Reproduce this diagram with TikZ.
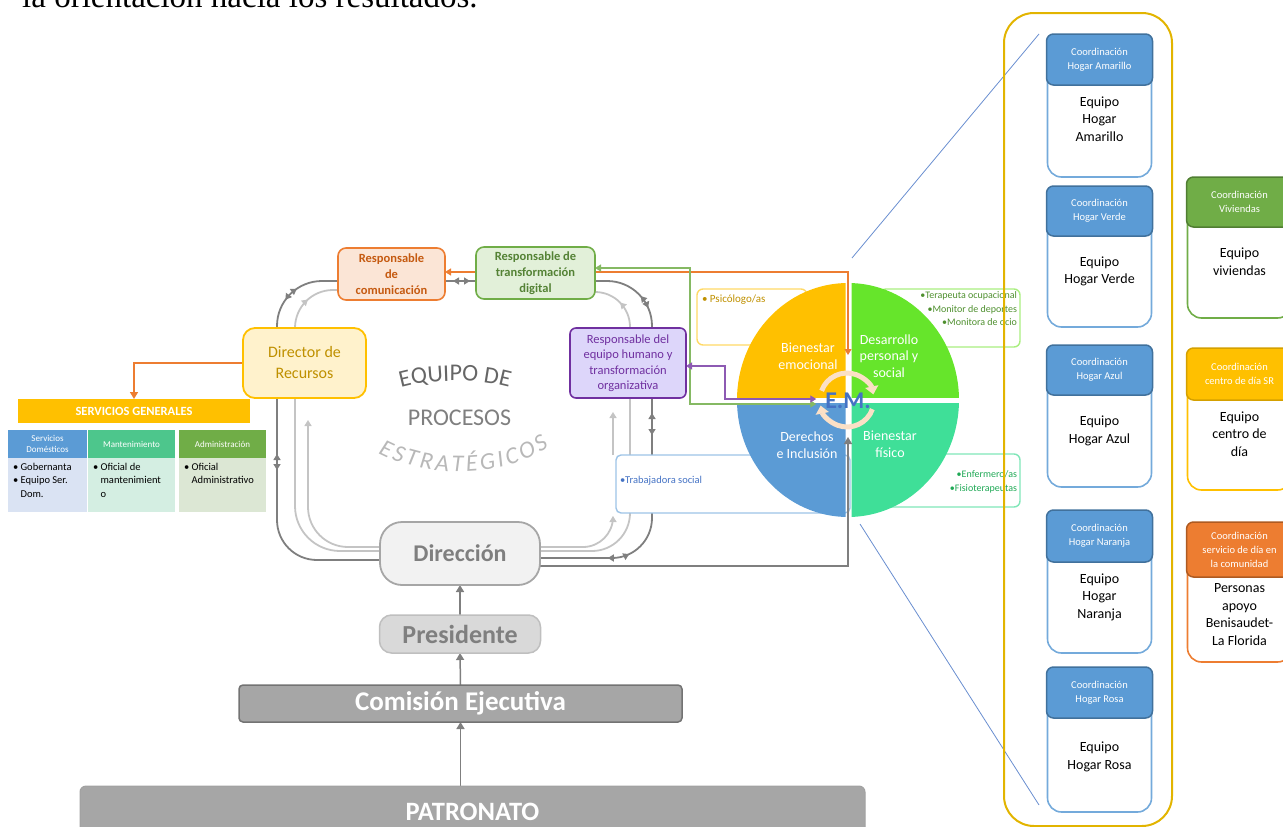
\documentclass[tikz,border=0pt]{standalone}
\usepackage{fontspec}
\setmainfont{Carlito}
\newfontfamily\seriffont{Liberation Serif}
\usetikzlibrary{arrows.meta,decorations.markings,decorations.text}
\definecolor{cgold}{HTML}{FFC000}
\definecolor{cdgold}{HTML}{BF9000}
\definecolor{clyel}{HTML}{FFF2CC}
\definecolor{corange}{HTML}{ED7D31}
\definecolor{cdorange}{HTML}{C55A11}
\definecolor{clorange}{HTML}{FBE5D6}
\definecolor{cgreen}{HTML}{70AD47}
\definecolor{cdgreen}{HTML}{548235}
\definecolor{clgreen}{HTML}{E2F0D9}
\definecolor{cpurple}{HTML}{7030A0}
\definecolor{clpurple}{HTML}{DDD6FA}
\definecolor{cblue}{HTML}{5B9BD5}
\definecolor{cdblue}{HTML}{41719C}
\definecolor{ctblue}{HTML}{4472C4}
\definecolor{clblue}{HTML}{9DC3E6}
\definecolor{cdark}{HTML}{7F7F7F}
\definecolor{clight}{HTML}{C4C4C4}
\definecolor{cqgreen}{HTML}{66E52B}
\definecolor{cqteal}{HTML}{3FDF98}
\definecolor{cmint}{HTML}{4DC68C}
\definecolor{ccont}{HTML}{E2B400}
\definecolor{cpeach}{HTML}{FBE0C6}
\definecolor{cterap}{HTML}{4E8F2E}
\definecolor{cenf}{HTML}{1FA855}
\pgfdeclarelayer{bg}
\pgfdeclarelayer{fg}
\pgfsetlayers{bg,main,fg}
\newcommand\fsz[2]{\fontsize{#1}{#2}\selectfont}
\begin{document}
\begin{tikzpicture}[x=1pt,y=-1pt,
  tip/.style={-{Triangle[width=7pt,length=6pt]}},
  btip/.style={{Triangle[width=7pt,length=6pt]}-{Triangle[width=7pt,length=6pt]}},
  dk/.style={draw=cdark,line width=1.8pt},
  lt/.style={draw=clight,line width=1.8pt},
  tw/.style 2 args={postaction={decorate,decoration={markings,
     mark=at position #1 with {\arrowreversed{Triangle[width=7pt,length=6pt]}},
     mark=at position #2 with {\arrow{Triangle[width=7pt,length=6pt]}}}}},
  mk/.style={postaction={decorate,decoration={markings,
     mark=at position #1 with {\arrow{Triangle[width=7pt,length=6pt]}}}}},
  rb/.style={draw,rounded corners=8pt,line width=1.6pt,inner sep=0pt,outer sep=0pt,align=center},
  plain/.style={inner sep=0pt,outer sep=0pt,align=center},
  hdr/.style={plain,minimum height=28pt,text=white,font=\fsz{9}{11}},
  bod/.style={plain,minimum height=54pt},
  btxt/.style={plain,anchor=north west,align=left,font=\fsz{10.5}{13.5}},
  qtext/.style={plain,text=white,font=\fsz{14}{16.5}},
  sideb/.style={draw,rounded corners=6pt,line width=1.4pt,inner sep=0pt,outer sep=0pt},
  hhead/.style={plain,draw,line width=1.5pt,rounded corners=7pt,text=white,font=\fsz{10.5}{14},minimum width=106pt},
  hbody/.style={plain,draw,line width=1.6pt,rounded corners=14pt,fill=white,minimum width=104pt},
  hbt/.style={plain,font=\fsz{14}{17.5}},
  garrow/.style={draw=cdark,line width=1.5pt,-{Triangle[width=8pt,length=7pt]}},
  cyc/.style={draw=cpeach,line width=5pt,-{Triangle[width=13pt,length=8pt]}}
]
\useasboundingbox (0,0) rectangle (1283,827);

% ---------- top text
\node[anchor=base west,inner sep=0pt,font=\seriffont\fsz{33}{33}] (toptext) at (22,8) {la orientación hacia los resultados.};

% ---------- central boxes (front)
\begin{pgfonlayer}{fg}
\node[rb,draw=cgold,fill=clyel,text=cdgold,minimum width=123pt,minimum height=70pt,rounded corners=12pt,line width=1.8pt,font=\fsz{16}{21}] (director) at (304.5,363) {Director de\\Recursos};
\node[rb,draw=corange,fill=clorange,text=cdorange,minimum width=107pt,minimum height=52pt,font=\bfseries\fsz{12.5}{16}] (com) at (391.5,274) {Responsable\\de\\comunicación};
\node[rb,draw=cgreen,fill=clgreen,text=cdgreen,minimum width=119pt,minimum height=52pt,font=\bfseries\fsz{12.5}{16}] (dig) at (535.5,273) {Responsable de\\transformación\\digital};
\node[rb,draw=cpurple,fill=clpurple,text=cpurple,minimum width=116pt,minimum height=70pt,rounded corners=6pt,font=\fsz{12.5}{15.5}] (eqh) at (628,363) {Responsable del\\equipo humano y\\transformación\\organizativa};
\node[rb,draw=black!35,fill=black!5,text=cdark,minimum width=160pt,minimum height=63pt,rounded corners=22pt,line width=1.8pt,font=\bfseries\fsz{24}{24}] (dirn) at (460,553.5) {Dirección};
\node[rb,draw=black!25,fill=black!15,text=cdark,minimum width=161pt,minimum height=38pt,rounded corners=12pt,line width=1.5pt,font=\bfseries\fsz{26}{26}] (pres) at (460,634) {Presidente};
\node[rb,draw=black!55,fill=black!35,text=white,minimum width=443pt,minimum height=37pt,rounded corners=4pt,line width=1.5pt,font=\bfseries\fsz{27}{27}] (comi) at (460.5,703.5) {Comisión Ejecutiva};
\node[rb,draw=black!37,fill=black!35,text=white,minimum width=785pt,minimum height=52pt,rounded corners=6pt,line width=1pt,font=\bfseries\fsz{26.5}{26.5}] (patr) at (472.5,812) {PATRONATO};
\end{pgfonlayer}

% ---------- left table
\node[plain,fill=cgold,minimum width=232pt,minimum height=24pt,text=white,font=\bfseries\fsz{12.5}{12.5}] (sg) at (134,411) {SERVICIOS GENERALES};
\node[hdr,fill=cblue,minimum width=79pt] (h1) at (47.5,444) {Servicios\\Domésticos};
\node[hdr,fill=cmint,minimum width=87pt] (h2) at (131.5,444) {Mantenimiento};
\node[hdr,fill=cgreen,minimum width=87pt] (h3) at (222.5,444) {Administración};
\node[bod,fill={rgb,255:red,218;green,227;blue,243},minimum width=79pt] (b1) at (47.5,485) {};
\node[bod,fill={rgb,255:red,212;green,238;blue,226},minimum width=87pt] (b2) at (131.5,485) {};
\node[bod,fill={rgb,255:red,220;green,231;blue,212},minimum width=87pt] (b3) at (222.5,485) {};
\node[btxt] (t1) at (13,463) {• Gobernanta\\• Equipo Ser.\\\hphantom{• }Dom.};
\node[btxt] (t2) at (93,463) {• Oficial de\\\hphantom{• }mantenimient\\\hphantom{• }o};
\node[btxt] (t3) at (184,463) {• Oficial\\\hphantom{• }Administrativo};
\draw[corange,line width=1.5pt,-{Triangle[width=8pt,length=7pt]}] (director.west) -| (sg.north);

% ---------- equipo de procesos estrategicos
\node[plain,text=cdark,font=\fsz{24}{24}] (proc) at (459.5,418) {PROCESOS};
\path[decorate,decoration={text along path,text={|\fsz{24}{24}|EQUIPO DE},text align=center,text color=black!60}]
  (386,393) .. controls (420,377) and (488,377) .. (524,393);
\path[decorate,decoration={text along path,text={|\itshape\fsz{24}{24}|ESTRATÉGICOS},text align={fit to path},text color=black!28}]
  (378,453) .. controls (425,478) and (500,480) .. (549,447);

% ---------- side boxes behind circle
\node[sideb,draw={rgb,255:red,255;green,217;blue,102},minimum width=110pt,minimum height=56pt] (psi) at (752,317) {};
\node[plain,anchor=west,font=\fsz{11}{11},text=cdgold] (psit) at (702,300) {• Psicólogo/as};
\node[sideb,draw={rgb,255:red,169;green,238;blue,127},minimum width=140pt,minimum height=58pt] (ter) at (950,318) {};
\node[plain,anchor=north east,align=right,font=\fsz{10}{13.5},text=cterap] (tert) at (1017,292) {•Terapeuta ocupacional\\•Monitor de deportes\\•Monitora de ocio};
\node[sideb,draw={rgb,255:red,128;green,230;blue,184},minimum width=140pt,minimum height=53pt] (enf) at (950,480.5) {};
\node[plain,anchor=north east,align=right,font=\fsz{10}{13.5},text=cenf] (enft) at (1017,471) {•Enfermero/as\\•Fisioterapeutas};
\node[sideb,draw=clblue,rounded corners=5pt,minimum width=234pt,minimum height=58pt] (trab) at (733,484) {};
\node[plain,anchor=west,font=\fsz{10.5}{10.5},text=ctblue] (trabt) at (620,481) {•Trabajadora social};

% ---------- circle
\begin{scope}\clip (700,250) rectangle (845.5,397);\fill[cgold] (848,400) ellipse[x radius=111,y radius=117];\end{scope}
\begin{scope}\clip (851.5,250) rectangle (1000,397);\fill[cqgreen] (848,400) ellipse[x radius=111,y radius=117];\end{scope}
\begin{scope}\clip (700,403) rectangle (845.5,560);\fill[cblue] (848,400) ellipse[x radius=111,y radius=117];\end{scope}
\begin{scope}\clip (851.5,403) rectangle (1000,560);\fill[cqteal] (848,400) ellipse[x radius=111,y radius=117];\end{scope}
\node[qtext] (qe) at (808,356) {Bienestar\\emocional};
\node[qtext] (qd) at (889,356) {Desarrollo\\personal y\\social};
\node[qtext] (qi) at (807,445) {Derechos\\e Inclusión};
\node[qtext] (qf) at (890,444) {Bienestar\\físico};
\draw[cyc] (821.6,390.8) arc[start angle=-160,end angle=-12,radius=27];
\draw[cyc] (872.4,409.2) arc[start angle=20,end angle=168,radius=27];
\node[plain,inner sep=2pt,font=\bfseries\fsz{24}{24},text=ctblue] (em) at (848,401) {E.M.};
\coordinate (emtop) at (848,355);
\coordinate (embot) at (848,437);

% ---------- colored connectors
\draw[corange,line width=1.2pt,btip] ([yshift=2pt]com.east) -| (emtop);
\draw[cgreen!85,line width=1.2pt,btip] ([yshift=5pt]dig.east) -- ++(95,0) |- ([xshift=-7pt,yshift=-3pt]em.west);
\draw[cpurple!80,line width=1.2pt,btip] ([yshift=-3pt]eqh.east) -- ++(39,0) |- ([xshift=-7pt,yshift=2pt]em.west);
\draw[garrow] ([yshift=-12.5pt]dirn.east) -| (embot);

% ---------- loops (back)
\begin{pgfonlayer}{bg}
\coordinate (z1) at (852,258);
\coordinate (z2) at (1039,34);
\coordinate (z3) at (860,524);
\coordinate (z4) at (1039,805);
\draw[ctblue!80,line width=0.8pt] (z1) -- (z2);
\draw[ctblue!80,line width=0.8pt] (z3) -- (z4);
% dark
\draw[dk,rounded corners=45pt,tw={30pt}{46pt}] ([xshift=-27.5pt]director.north) -- ++(0,-47) -- ([yshift=-7pt]com.west);
\draw[dk,rounded corners=40pt,tw={56pt}{72pt}] ([xshift=-27.5pt]director.south) |- ([yshift=-6.5pt]dirn.west);
\draw[dk,rounded corners=40pt,tw={50pt}{72pt}] ([xshift=-81pt]trab.south) |- ([yshift=-4.5pt]dirn.east);
\draw[dk,tw={15pt}{37pt}] ([xshift=24pt]eqh.south) -- ([xshift=-81pt]trab.north);
\draw[dk,rounded corners=45pt,tw={50pt}{64pt}] ([yshift=-8pt]dig.east) -| ([xshift=24pt]eqh.north);
\draw[dk,tw={8pt}{25pt}] ([yshift=-7pt]com.east) -- ([yshift=-8pt]dig.west);
% light
\coordinate (l3e) at (308,420);
\coordinate (l6s) at (613,455);
\coordinate (l6e) at (613,412);
\coordinate (l7e) at (613,516);
\draw[lt,rounded corners=38pt,mk=0.5] ([xshift=-9.5pt]director.north) -- ++(0,-38) -- ([yshift=-16pt]com.west);
\draw[lt,rounded corners=45pt] ([xshift=-9.5pt]director.south) |- ([yshift=2.5pt]dirn.west);
\draw[lt,rounded corners=40pt,tip] ([yshift=6.5pt]dirn.west) -| (l3e);
\draw[lt,rounded corners=35pt,mk=0.5] ([xshift=2pt]eqh.north) |- ([yshift=-19pt]dig.east);
\draw[lt] ([xshift=2pt]eqh.south) -- ([xshift=-103pt]trab.north);
\draw[lt,rounded corners=38pt] ([xshift=-103pt]trab.south) |- ([yshift=2.5pt]dirn.east);
\draw[lt,tip] (l6s) -- (l6e);
\draw[lt,rounded corners=30pt,tip] ([yshift=6.5pt]dirn.east) -| (l7e);
\draw[garrow] (comi.north) -- (pres.south);
\draw[garrow] (pres.north) -- (dirn.south);
\draw[garrow] (comi.south |- patr.north) -- (comi.south);
\end{pgfonlayer}

% ---------- right panel (front)
\begin{pgfonlayer}{fg}
\node[plain,draw=ccont,line width=2pt,rounded corners=30pt,minimum width=168pt,minimum height=813pt] (hog) at (1088,419.5) {};
% Amarillo
\node[hbody,draw=cblue!85,minimum height=123pt] (amab) at (1099.5,115.5) {};
\node[hhead,fill=cblue,draw=cdblue,minimum height=51pt] (amah) at (1099.5,59.5) {Coordinación\\Hogar Amarillo};
\node[hbt] (amat) at (1099.5,119) {Equipo\\Hogar\\Amarillo};
% Verde
\node[hbody,draw=cblue!85,minimum height=121pt] (verb) at (1099.5,266.5) {};
\node[hhead,fill=cblue,draw=cdblue,minimum height=50pt] (verh) at (1099.5,211) {Coordinación\\Hogar Verde};
\node[hbt] (vert) at (1099.5,271.5) {Equipo\\Hogar Verde};
% Azul
\node[hbody,draw=cblue!85,minimum height=122pt] (azub) at (1099.5,426) {};
\node[hhead,fill=cblue,draw=cdblue,minimum height=50pt] (azuh) at (1099.5,370) {Coordinación\\Hogar Azul};
\node[hbt] (azut) at (1099.5,431) {Equipo\\Hogar Azul};
% Naranja
\node[hbody,draw=cblue!85,minimum height=123pt] (narb) at (1099.5,591.5) {};
\node[hhead,fill=cblue,draw=cdblue,minimum height=52pt] (narh) at (1099.5,536) {Coordinación\\Hogar Naranja};
\node[hbt] (nart) at (1099.5,597) {Equipo\\Hogar\\Naranja};
% Rosa
\node[hbody,draw=cblue!85,minimum height=125pt] (rosb) at (1099.5,749.5) {};
\node[hhead,fill=cblue,draw=cdblue,minimum height=51pt] (rosh) at (1099.5,692.5) {Coordinación\\Hogar Rosa};
\node[hbt] (rost) at (1099.5,757) {Equipo\\Hogar Rosa};
% Viviendas
\node[hbody,draw=cgreen,minimum height=121pt] (vivb) at (1239.5,257.5) {};
\node[hhead,fill=cgreen,draw={rgb,255:red,80;green,126;blue,50},minimum height=50pt] (vivh) at (1239.5,202) {Coordinación\\Viviendas};
\node[hbt] (vivt) at (1239.5,261.5) {Equipo\\viviendas};
% Centro de dia
\node[hbody,draw=cgold,minimum height=122pt] (cenb) at (1239.5,429) {};
\node[hhead,fill=cgold,draw={rgb,255:red,212;green,160;blue,0},minimum height=52pt] (cenh) at (1239.5,374) {Coordinación\\centro de día SR};
\node[hbt] (cent) at (1239.5,434) {Equipo\\centro de\\día};
% Servicio de dia
\node[hbody,draw=corange,minimum height=120pt] (serb) at (1239.5,602) {};
\node[hhead,fill=corange,draw={rgb,255:red,174;green,90;blue,33},minimum height=55pt] (serh) at (1239.5,549.5) {Coordinación\\servicio de día en\\la comunidad};
\node[hbt] (sert) at (1239.5,614.5) {Personas\\apoyo\\Benisaudet-\\La Florida};
\end{pgfonlayer}
\end{tikzpicture}
\end{document}
